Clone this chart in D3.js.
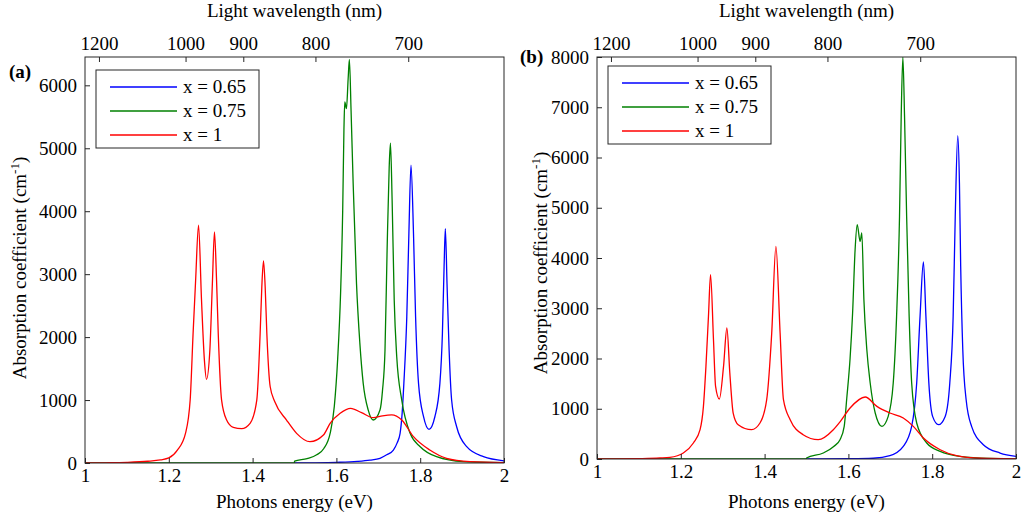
<!DOCTYPE html>
<html>
<head>
<meta charset="utf-8">
<script src="https://cdn.jsdelivr.net/npm/d3@7"></script>
<style>
  body { margin: 0; background: #fff; }
  text { font-family: "Liberation Serif", "Times New Roman", serif; fill: #000; }
</style>
</head>
<body>
<div id="chart"></div>
<script>
/**
 * DATA: [photon energy (eV), absorption (cm^-1)]
 */
const seriesNames = ["x = 0.65", "x = 0.75", "x = 1"];
const energyTicks = [1, 1.2, 1.4, 1.6, 1.8, 2];
const wavelengthTicks = [1200, 1000, 900, 800, 700];
const yTicksA = [0, 1000, 2000, 3000, 4000, 5000, 6000];
const yTicksB = [0, 1000, 2000, 3000, 4000, 5000, 6000, 7000, 8000];

// panel (a)
const blueA = [[1.5,0],[1.55,3],[1.6,10],[1.65,25],[1.68,45],[1.704,74],[1.72,130],[1.736,206],
  [1.745,320],[1.752,471],[1.757,800],[1.761,1265],[1.768,2323],[1.773,3646],[1.778,4730],[1.784,3646],
  [1.789,2323],[1.796,1265],[1.808,735],[1.821,535],[1.835,735],[1.847,1265],[1.853,2058],[1.857,3116],
  [1.86,3725],[1.864,2852],[1.869,1794],[1.875,1000],[1.887,576],[1.911,259],[1.951,100],[2.0,35]];
const greenA = [[1.0,0],[1.4999,0],[1.5,30],[1.53,70],[1.553,130],[1.57,230],[1.585,470],[1.595,900],
  [1.603,1650],[1.61,2700],[1.615,4000],[1.618,5300],[1.62,5735],[1.624,5630],[1.628,6100],[1.631,6410],
  [1.635,5600],[1.64,4440],[1.648,2850],[1.656,1900],[1.664,1265],[1.676,840],[1.688,683],[1.704,841],
  [1.71,1150],[1.716,1794],[1.721,3381],[1.726,4703],[1.729,5080],[1.733,4175],[1.738,2587],[1.744,1687],
  [1.756,1000],[1.776,471],[1.8,259],[1.839,100],[1.903,21],[2.0,5]];
const redA = [[1.0,0],[1.05,3],[1.1,10],[1.15,28],[1.18,50],[1.2,80],[1.22,200],[1.24,476],[1.251,1000],
  [1.258,2063],[1.264,2900],[1.271,3780],[1.278,2600],[1.285,1630],[1.29,1330],[1.298,1794],[1.304,2852],
  [1.309,3670],[1.314,2900],[1.318,2058],[1.326,1000],[1.338,683],[1.354,566],[1.374,545],[1.394,630],
  [1.41,1000],[1.418,2058],[1.422,2800],[1.426,3211],[1.43,2800],[1.434,2058],[1.442,1211],[1.453,973],
  [1.481,683],[1.505,471],[1.537,338],[1.569,444],[1.585,630],[1.609,789],[1.634,868],[1.66,800],
  [1.688,720],[1.71,750],[1.732,765],[1.756,683],[1.784,418],[1.823,206],[1.863,74],[1.919,21],[2.0,5]];

// panel (b)
const blueB = [[1.5,0],[1.6,5],[1.659,15],[1.699,66],[1.731,251],[1.751,649],[1.763,1512],[1.771,2838],
  [1.779,3920],[1.785,2838],[1.792,1512],[1.801,848],[1.815,683],[1.831,848],[1.842,1512],[1.85,2838],
  [1.855,4828],[1.861,6434],[1.865,5493],[1.868,3833],[1.873,2175],[1.881,1180],[1.894,649],[1.922,285],
  [1.962,119],[2.0,53]];
const greenB = [[1.0,0],[1.4999,0],[1.5,20],[1.54,119],[1.565,250],[1.58,384],[1.59,650],[1.596,1200],
  [1.604,2000],[1.61,2900],[1.616,4165],[1.621,4663],[1.628,4330],[1.632,4498],[1.637,3170],[1.644,2175],
  [1.652,1512],[1.664,915],[1.68,649],[1.695,848],[1.707,1512],[1.715,2838],[1.722,4828],[1.726,6818],
  [1.73,8000],[1.734,6818],[1.739,4828],[1.745,2838],[1.751,1512],[1.763,716],[1.787,318],[1.819,152],
  [1.866,53],[1.938,10],[2.0,3]];
const redB = [[1.0,0],[1.05,2],[1.1,8],[1.15,20],[1.174,32],[1.206,119],[1.23,318],[1.246,583],[1.254,1047],
  [1.26,1843],[1.266,2838],[1.271,3668],[1.278,2374],[1.283,1445],[1.292,1194],[1.302,1843],[1.31,2607],
  [1.317,1711],[1.325,915],[1.337,683],[1.369,583],[1.389,716],[1.405,1180],[1.417,2507],[1.427,4231],
  [1.437,2507],[1.445,1180],[1.461,782],[1.492,484],[1.528,384],[1.564,583],[1.58,740],[1.604,1015],
  [1.64,1234],[1.668,1047],[1.699,915],[1.731,816],[1.755,649],[1.779,418],[1.819,185],[1.858,66],
  [1.914,15],[2.0,3]];

/**
 * LAYOUT
 */
const width = 1024, height = 520;
const colors = ["#0000ff", "#008000", "#ff0000"];
const frameColor = "#262626";
const fontSize = 19;

const panels = [
  { tag: "(a)", tagPos: [9, 78], x0: 85, x1: 504, y0: 57, y1: 463, yMax: 6450, yTicks: yTicksA,
    series: [blueA, greenA, redA], ylab: [19, 268], legend: [96, 70] },
  { tag: "(b)", tagPos: [520, 63], x0: 597, x1: 1016, y0: 57, y1: 459, yMax: 8000, yTicks: yTicksB,
    series: [blueB, greenB, redB], ylab: [540, 263], legend: [608, 66] }
];

const svg = d3.select("#chart").append("svg")
  .attr("width", width)
  .attr("height", height);

panels.forEach((p, i) => {
  const x = d3.scaleLinear().domain([1, 2]).range([p.x0, p.x1]);
  const y = d3.scaleLinear().domain([0, p.yMax]).range([p.y1, p.y0]);

  const clipId = "clip" + i;
  svg.append("clipPath").attr("id", clipId)
    .append("rect")
    .attr("x", p.x0).attr("y", p.y0)
    .attr("width", p.x1 - p.x0).attr("height", p.y1 - p.y0);

  // curves
  const line = d3.line()
    .x(d => x(d[0]))
    .y(d => y(d[1]))
    .curve(d3.curveMonotoneX);

  svg.append("g").attr("clip-path", `url(#${clipId})`)
    .selectAll("path")
    .data(p.series)
    .join("path")
    .attr("fill", "none")
    .attr("stroke", (d, k) => colors[k])
    .attr("stroke-width", 1.3)
    .attr("stroke-linejoin", "round")
    .attr("d", line);

  // bottom axis (energy)
  const gx = svg.append("g")
    .attr("transform", `translate(0,${p.y1})`)
    .call(d3.axisBottom(x).tickValues(energyTicks)
      .tickFormat(d => String(+d.toFixed(1)))
      .tickSizeInner(-5).tickSizeOuter(0).tickPadding(6));

  // left axis
  const gy = svg.append("g")
    .attr("transform", `translate(${p.x0},0)`)
    .call(d3.axisLeft(y).tickValues(p.yTicks)
      .tickFormat(d3.format("d"))
      .tickSizeInner(-5).tickSizeOuter(0).tickPadding(8));

  // top axis (wavelength, E = 1240 / lambda)
  const gt = svg.append("g")
    .attr("transform", `translate(0,${p.y0})`)
    .call(d3.axisTop(x).tickValues(wavelengthTicks.map(l => 1240 / l))
      .tickFormat(e => Math.round(1240 / e))
      .tickSizeInner(-5).tickSizeOuter(0).tickPadding(7));

  [gx, gy, gt].forEach(g => {
    g.select(".domain").remove();
    g.selectAll(".tick line").attr("stroke", frameColor);
    g.selectAll(".tick text")
      .attr("font-size", fontSize)
      .style("font-family", '"Liberation Serif", serif')
      .attr("fill", "#000");
  });

  // frame
  svg.append("rect")
    .attr("x", p.x0).attr("y", p.y0)
    .attr("width", p.x1 - p.x0).attr("height", p.y1 - p.y0)
    .attr("fill", "none")
    .attr("stroke", frameColor)
    .attr("stroke-width", 1);

  // axis titles
  const cx = (p.x0 + p.x1) / 2;
  svg.append("text")
    .attr("x", cx).attr("y", 508)
    .attr("text-anchor", "middle")
    .attr("font-size", fontSize)
    .text("Photons energy (eV)");

  svg.append("text")
    .attr("x", cx).attr("y", 17)
    .attr("text-anchor", "middle")
    .attr("font-size", fontSize)
    .text("Light wavelength (nm)");

  const yl = svg.append("text")
    .attr("transform", `translate(${p.ylab[0]},${p.ylab[1]}) rotate(-90)`)
    .attr("text-anchor", "middle")
    .attr("dy", "0.35em")
    .attr("font-size", fontSize);
  yl.append("tspan").text("Absorption coefficient (cm");
  yl.append("tspan").attr("dy", -7).attr("font-size", 13).text("-1");
  yl.append("tspan").attr("dy", 7).text(")");

  // panel tag
  svg.append("text")
    .attr("x", p.tagPos[0]).attr("y", p.tagPos[1])
    .attr("font-size", fontSize)
    .attr("font-weight", "bold")
    .text(p.tag);

  // legend
  const [lx, ly] = p.legend;
  const lg = svg.append("g");
  lg.append("rect")
    .attr("x", lx).attr("y", ly)
    .attr("width", 163).attr("height", 78)
    .attr("fill", "#fff")
    .attr("stroke", frameColor)
    .attr("stroke-width", 1);

  const rows = lg.selectAll("g.row")
    .data(seriesNames)
    .join("g")
    .attr("class", "row")
    .attr("transform", (d, k) => `translate(${lx},${ly + 17 + k * 24})`);

  rows.append("line")
    .attr("x1", 14).attr("x2", 81)
    .attr("stroke", (d, k) => colors[k])
    .attr("stroke-width", 1.3);

  rows.append("text")
    .attr("x", 87).attr("dy", "0.33em")
    .attr("font-size", fontSize)
    .text(d => d);
});
</script>
</body>
</html>
